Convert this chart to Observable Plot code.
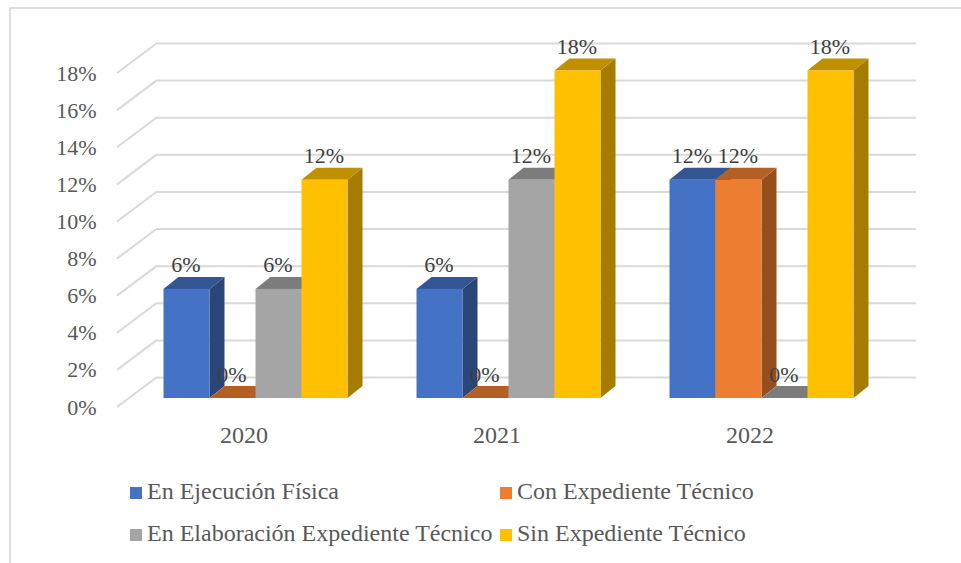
<!DOCTYPE html>
<html><head><meta charset="utf-8">
<script src="https://cdn.jsdelivr.net/npm/d3@7"></script>
<script src="https://cdn.jsdelivr.net/npm/@observablehq/plot@0.6"></script>
<style>
html,body{margin:0;padding:0;background:#fff;}
#frame{position:relative;width:961px;height:563px;overflow:hidden;font-family:"Liberation Serif",serif;}
#border{position:absolute;left:9px;top:7px;width:1000px;height:600px;border:2px solid #dedede;box-sizing:border-box;}
#chart{position:absolute;left:0;top:0;}
#legend{position:absolute;left:130px;top:470px;display:grid;grid-template-columns:370px auto;row-gap:0;color:#595959;font-size:24px;line-height:42px;}
#legend span.k{display:inline-block;width:12px;height:12px;margin-right:5px;}
</style></head><body>
<div id="frame"><div id="border"></div><div id="chart"></div><div id="legend"></div></div>
<script>
const years = ["2020","2021","2022"];
const seriesNames = ["En Ejecución Física","Con Expediente Técnico","En Elaboración Expediente Técnico","Sin Expediente Técnico"];
const enEjecucion = [5.88,5.88,11.76];
const conExpediente = [0,0,11.76];
const enElaboracion = [5.88,11.76,0];
const sinExpediente = [11.76,17.65,17.65];
const frontColors = ["#4472c4","#ed7d31","#a5a5a5","#ffc000"];
const topColors = ["#335693","#b45f24","#7c7c7c","#bf9000"];
const sideColors = ["#2a4679","#964f1c","#676767","#a67c00"];
const yTicks = d3.range(0,19,2);
const allValues = [enEjecucion,conExpediente,enElaboracion,sinExpediente];
const groupSpan = 5.5, firstBar = 0.75;
const rows = allValues.flatMap((vals,s)=>vals.map((v,g)=>({
  year:years[g], series:s, value:v,
  x1:g*groupSpan+firstBar+s, x2:g*groupSpan+firstBar+s+1, xm:g*groupSpan+firstBar+s+0.5
})));
const yearRows = years.map((y,g)=>({year:y,xm:(g+0.5)*groupSpan}));
// oblique projection offsets
const wall = {dx:40,dy:-30}, inset = {dx:12,dy:-9}, depth = {dx:15,dy:-12};
function poly(pts,fill){
  const p = document.createElementNS("http://www.w3.org/2000/svg","path");
  p.setAttribute("d","M"+pts.map(q=>q.join(",")).join("L")+"Z");
  p.setAttribute("fill",fill);
  return p;
}
const face = (kind,color) => (index,scales,values) => {
  const g = document.createElementNS("http://www.w3.org/2000/svg","g");
  g.setAttribute("transform",`translate(${inset.dx},${inset.dy})`);
  const {x1:X1,x2:X2,y1:Y1,y2:Y2} = values;
  for (const i of index){
    const a=X1[i],b=X2[i],t=Y2[i],o=Y1[i],dx=depth.dx,dy=depth.dy;
    g.appendChild(kind==="side"
      ? poly([[b,t],[b+dx,t+dy],[b+dx,o+dy],[b,o]],color)
      : poly([[a,t],[a+dx,t+dy],[b+dx,t+dy],[b,t]],color));
  }
  return g;
};
const barMarks = frontColors.flatMap((c,s)=>{
  const d = rows.filter(r=>r.series===s);
  const ch = {x1:"x1",x2:"x2",y1:()=>0,y2:"value"};
  return [
    Plot.rect(d,{...ch,render:face("side",sideColors[s])}),
    Plot.rect(d,{...ch,render:face("top",topColors[s])}),
    Plot.rect(d,{...ch,fill:c,dx:inset.dx,dy:inset.dy})
  ];
});
const chart = Plot.plot({
  width:961,height:470,
  marginLeft:117,marginRight:85,marginTop:73,marginBottom:63,
  style:{background:"transparent",fontFamily:"'Liberation Serif',serif",overflow:"visible"},
  x:{domain:[0,3*groupSpan],axis:null},
  y:{domain:[0,18],axis:null},
  marks:[
    Plot.ruleY(yTicks,{x1:0,x2:3*groupSpan,dx:wall.dx,dy:wall.dy,stroke:"#d9d9d9",strokeWidth:2}),
    Plot.link(yTicks,{x1:0,x2:0,y1:d=>d,y2:d=>d,stroke:"#d9d9d9",strokeWidth:2,
      render:(index,scales,values)=>{
        const g=document.createElementNS("http://www.w3.org/2000/svg","g");
        for(const i of index){
          const p=poly([[values.x1[i],values.y1[i]],[values.x1[i]+wall.dx,values.y1[i]+wall.dy]],"none");
          p.setAttribute("stroke","#d9d9d9");p.setAttribute("stroke-width",2);g.appendChild(p);
        }
        return g;
      }}),
    Plot.axisY({ticks:yTicks,tickSize:0,tickPadding:21,tickFormat:d=>d+"%",label:null,fill:"#595959",dy:0,fontSize:22}),
    ...barMarks,
    Plot.text(rows,{x:"xm",y:"value",text:d=>Math.round(d.value)+"%",dx:inset.dx-1,dy:inset.dy-24,fill:"#404040",fontSize:22}),
    Plot.text(yearRows,{x:"xm",y:()=>0,text:"year",dy:28,fill:"#595959",fontSize:24})
  ]
});
document.getElementById("chart").appendChild(chart);
const legend = document.getElementById("legend");
seriesNames.forEach((n,i)=>{
  const d=document.createElement("div");
  d.innerHTML=`<span class="k" style="background:${frontColors[i]}"></span>${n}`;
  legend.appendChild(d);
});
</script></body></html>
